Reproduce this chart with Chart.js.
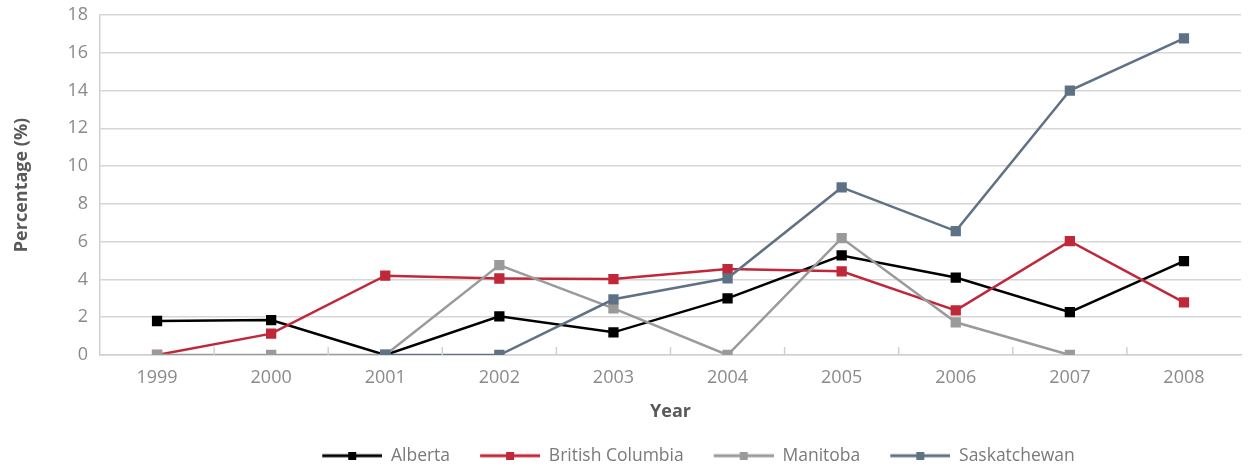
<!DOCTYPE html>
<html>
<head>
<meta charset="utf-8">
<script src="https://cdn.jsdelivr.net/npm/chart.js@4"></script>
<style>
  html, body { margin: 0; padding: 0; background: #fff; }
  #wrap { width: 1249px; height: 467px; }
</style>
</head>
<body>
<div id="wrap"><canvas id="myChart" width="1249" height="467"></canvas></div>
<script>
const years = ['1999', '2000', '2001', '2002', '2003', '2004', '2005', '2006', '2007', '2008'];
const alberta = [1.8, 1.85, 0, 2.05, 1.2, 3.0, 5.27, 4.1, 2.27, 4.97];
const britishColumbia = [0, 1.13, 4.2, 4.05, 4.02, 4.55, 4.43, 2.36, 6.03, 2.79];
const manitoba = [0, 0, 0, 4.76, 2.47, 0, 6.19, 1.73, 0, null];
const saskatchewan = [null, null, 0, 0, 2.95, 4.06, 8.87, 6.56, 14.0, 16.76];
const yTicks = [0, 2, 4, 6, 8, 10, 12, 14, 16, 18];

const colors = {
  alberta: '#000000',
  bc: '#c0283a',
  manitoba: '#9a9a9a',
  sask: '#5f7185'
};

// line + square symbol for the legend (left 20px left empty as spacing)
function legendSymbol(color) {
  const c = document.createElement('canvas');
  c.width = 80; c.height = 8;
  const g = c.getContext('2d');
  g.strokeStyle = color;
  g.lineWidth = 3;
  g.beginPath(); g.moveTo(20, 4); g.lineTo(80, 4); g.stroke();
  g.fillStyle = color;
  g.fillRect(46, 0, 8, 8);
  return c;
}

// short tick marks between categories, drawn upward from the x axis
const innerTicks = {
  id: 'innerTicks',
  afterLayout(chart) {
    // legend sits a bit right of centre in the original
    chart.legend.left += 120;
  },
  afterDraw(chart) {
    const x = chart.scales.x;
    const ctx = chart.ctx;
    const bottom = chart.chartArea.bottom;
    ctx.save();
    ctx.strokeStyle = '#d0d0d0';
    ctx.lineWidth = 1.5;
    for (let i = 1; i < years.length; i++) {
      const px = (x.getPixelForValue(i - 1) + x.getPixelForValue(i)) / 2;
      ctx.beginPath();
      ctx.moveTo(px, bottom);
      ctx.lineTo(px, bottom - 8);
      ctx.stroke();
    }
    ctx.restore();
  }
};

function mkSet(label, data, color) {
  return {
    label: label,
    data: data,
    borderColor: color,
    backgroundColor: color,
    borderWidth: 2.5,
    pointStyle: 'rect',
    pointRadius: 5.5,
    pointHoverRadius: 5.5,
    tension: 0,
    spanGaps: false
  };
}

const ctx = document.getElementById('myChart').getContext('2d');
new Chart(ctx, {
  type: 'line',
  data: {
    labels: years,
    datasets: [
      mkSet('Alberta', alberta, colors.alberta),
      mkSet('British Columbia', britishColumbia, colors.bc),
      mkSet('Manitoba', manitoba, colors.manitoba),
      mkSet('Saskatchewan', saskatchewan, colors.sask)
    ].reverse()
  },
  options: {
    responsive: false,
    animation: false,
    layout: { padding: { left: 8, right: 0, top: 0, bottom: 0 } },
    scales: {
      x: {
        offset: true,
        afterFit: (axis) => { axis.height = 82; },
        grid: { display: false, drawTicks: false },
        border: { display: true, color: '#d0d0d0', width: 1.5 },
        ticks: { color: '#8a8a8a', font: { family: 'Open Sans', size: 18 }, padding: 12 },
        title: {
          display: true, text: 'Year', color: '#595959',
          font: { family: 'Open Sans', size: 18, weight: 'bold' }, padding: { top: 10, bottom: 14 }
        }
      },
      y: {
        min: 0, max: 18,
        afterFit: (axis) => { axis.width = 92; axis.paddingTop = 15; },
        afterBuildTicks: (axis) => { axis.ticks = yTicks.map(v => ({ value: v })); },
        grid: { color: '#d6d6d6', lineWidth: 1.5, drawTicks: false },
        border: { display: true, color: '#d0d0d0', width: 1.5 },
        ticks: { color: '#8a8a8a', font: { family: 'Open Sans', size: 18 }, padding: 12 },
        title: {
          display: true, text: 'Percentage (%)', color: '#595959',
          font: { family: 'Open Sans', size: 18, weight: 'bold' }, padding: { top: 3, bottom: 12 }
        }
      }
    },
    plugins: {
      legend: {
        position: 'bottom',
        reverse: true,
        maxHeight: 30,
        labels: {
          usePointStyle: true,
          pointStyleWidth: 80,
          padding: 10,
          color: '#7a7a7a',
          font: { family: 'Open Sans', size: 17.5 },
          generateLabels: (chart) => chart.data.datasets.map((ds, i) => ({
            text: ds.label,
            pointStyle: legendSymbol(ds.borderColor),
            fillStyle: ds.borderColor,
            strokeStyle: ds.borderColor,
            fontColor: '#7a7a7a',
            lineWidth: 0,
            hidden: false,
            datasetIndex: i
          }))
        }
      },
      tooltip: { enabled: false }
    }
  },
  plugins: [innerTicks]
});
</script>
</body>
</html>
